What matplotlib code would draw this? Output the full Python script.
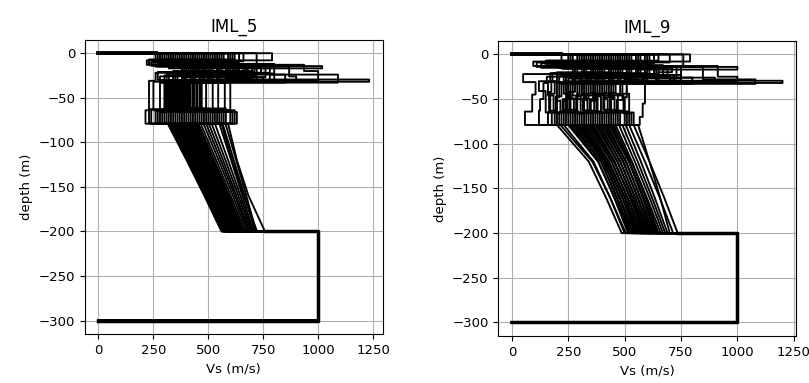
import numpy as np
import matplotlib.pyplot as plt

# --- IML_5 profiles: layer velocities (m/s) and layer bottoms (m) ---
v1_5 = [270, 310, 350, 390, 430, 470, 510, 550, 590, 620, 290, 330, 370, 410, 450, 490, 530, 570, 610, 260, 300, 400, 480, 660, 720, 790,
        280, 320, 360, 380, 420, 440, 460, 500, 520, 540, 560, 600, 640, 340]
d1_5 = [-8, -10, -7, -11, -9, -12, -8, -10, -9, -11, -7, -12, -10, -8, -11, -9, -10, -12, -8, -9, -11, -10, -7, -9, -14.5, -8,
        -9, -11, -8, -10, -12, -7, -9, -11, -10, -8, -12, -9, -10, -11]
v2_5 = [220, 260, 300, 340, 380, 420, 460, 500, 540, 580, 620, 650, 240, 280, 320, 360, 400, 440, 480, 520, 560, 600, 230, 310, 1018, 470,
        250, 290, 330, 370, 410, 450, 490, 530, 570, 610, 270, 350, 430, 510]
d2_5 = [-13, -15, -12, -14, -16, -13, -15, -14, -13, -16, -12, -15, -14, -13, -17, -14, -15, -13, -16, -14, -12, -15, -13, -14, -17, -15,
        -14, -13, -15, -16, -14, -12, -15, -13, -14, -16, -15, -13, -14, -12]
v3_5 = [380, 420, 460, 500, 540, 580, 620, 660, 700, 740, 400, 440, 480, 520, 560, 600, 640, 680, 720, 760, 800, 868, 936, 450, 560, 540,
        390, 430, 470, 510, 550, 590, 630, 670, 710, 410, 450, 490, 610, 780]
d3_5 = [-22, -25, -20, -27, -23, -26, -21, -24, -28, -22, -25, -20, -27, -23, -26, -21, -24, -22, -25, -27, -23, -26, -20, -24, -22, -29.5,
        -21, -23, -25, -27, -20, -22, -24, -26, -21, -23, -25, -27, -22, -24]
v4_5 = [260, 300, 340, 380, 420, 460, 500, 540, 580, 620, 660, 700, 750, 800, 280, 320, 360, 400, 440, 480, 520, 900, 1000, 1090, 600, 1232,
        270, 310, 350, 390, 430, 470, 510, 550, 590, 640, 680, 720, 780, 850]
d4_5 = [-31, -32, -30, -33, -31, -32, -30, -31, -33, -32, -31, -30, -32, -31, -33, -30, -31, -32, -30, -33, -31, -32, -31, -33, -30, -32,
        -30, -31, -32, -33, -31, -30, -32, -31, -33, -30, -32, -31, -30, -33]
v5_5 = [230, 300, 320, 340, 355, 370, 385, 400, 415, 430, 445, 460, 470, 490, 520, 545, 575, 600, 310, 330, 350, 365, 380, 395, 410, 250,
        305, 315, 325, 335, 345, 360, 375, 390, 405, 420, 435, 450, 465, 280]
d5_5 = [-64, -63, -65, -66, -62, -64, -65, -63, -66, -64, -62, -65, -63, -64, -66, -65, -63, -64, -62, -65, -66, -63, -64, -65, -62, -64,
        -63, -65, -64, -62, -66, -63, -64, -65, -62, -64, -63, -66, -65, -64]
v6_5 = [214, 240, 260, 280, 300, 320, 340, 360, 380, 400, 420, 440, 460, 480, 500, 520, 540, 560, 580, 600, 630, 290, 350, 410, 470, 530,
        230, 270, 310, 330, 370, 390, 430, 450, 490, 510, 550, 570, 610, 620]

# gradient zone, Vs at -79, -120, -160, -200 m
g1_5 = [315, 325, 335, 345, 355, 365, 375, 385, 395, 405, 415, 425, 435, 445, 455, 465, 478, 490, 502, 515, 550, 565, 578, 560, 590, 530,
        320, 330, 340, 350, 360, 370, 380, 390, 400, 410, 420, 430, 440, 450]
g2_5 = [401, 410, 419, 429, 438, 447, 457, 466, 474, 484, 492, 501, 510, 519, 527, 536, 547, 557, 567, 578, 604, 616, 627, 608, 630, 590,
        405, 414, 424, 433, 443, 452, 461, 470, 479, 488, 497, 505, 514, 522]
g3_5 = [482, 490, 498, 508, 516, 525, 533, 541, 549, 558, 565, 573, 580, 588, 594, 602, 612, 621, 628, 637, 655, 665, 673, 662, 683, 646,
        486, 494, 503, 512, 520, 529, 537, 545, 554, 562, 569, 576, 583, 591]
g4_5 = [560, 568, 575, 585, 592, 600, 608, 615, 622, 630, 636, 642, 648, 655, 660, 667, 675, 682, 688, 695, 705, 712, 718, 722, 758, 700,
        564, 571, 580, 588, 596, 604, 611, 618, 626, 633, 639, 645, 651, 657]

# --- IML_9 profiles ---
v1_9 = [250, 290, 330, 370, 410, 450, 490, 530, 570, 610, 650, 270, 310, 350, 390, 430, 470, 510, 550, 590, 220, 380, 460, 700, 760, 790,
        260, 300, 340, 360, 400, 420, 440, 480, 500, 520, 560, 600, 630, 320]
d1_9 = [-8, -10, -7, -11, -9, -12, -8, -10, -9, -11, -7, -12, -10, -8, -11, -9, -10, -12, -8, -9, -11, -10, -7, -9, -14, -8,
        -9, -11, -8, -10, -12, -7, -9, -11, -10, -8, -12, -9, -10, -11]
v2_9 = [95, 130, 160, 190, 220, 260, 300, 340, 380, 420, 460, 500, 540, 580, 620, 240, 280, 320, 360, 400, 440, 480, 150, 200, 1000, 350,
        110, 175, 205, 230, 270, 310, 350, 390, 430, 470, 510, 550, 600, 250]
d2_9 = [-13, -15, -12, -14, -16, -13, -15, -14, -13, -16, -12, -15, -14, -13, -16, -14, -15, -13, -16, -14, -12, -15, -13, -14, -17, -15,
        -14, -13, -15, -16, -14, -12, -15, -13, -14, -16, -15, -13, -14, -12]
v3_9 = [270, 310, 350, 390, 430, 470, 510, 550, 590, 630, 670, 710, 750, 290, 330, 370, 410, 450, 490, 530, 570, 610, 913, 847, 560, 640,
        280, 320, 360, 400, 440, 480, 520, 560, 600, 650, 690, 730, 380, 460]
d3_9 = [-22, -25, -20, -27, -23, -26, -21, -24, -28, -22, -25, -20, -27, -23, -26, -21, -24, -22, -25, -27, -23, -26, -25, -28, -22, -29.5,
        -21, -23, -25, -27, -20, -22, -24, -26, -21, -23, -25, -27, -22, -24]
v4_9 = [50, 155, 200, 250, 300, 350, 400, 450, 500, 550, 600, 650, 700, 750, 800, 180, 230, 280, 330, 380, 430, 900, 1000, 1080, 480, 1200,
        170, 210, 240, 270, 310, 340, 370, 410, 440, 470, 520, 580, 640, 720]
d4_9 = [-31, -32, -30, -33, -31, -32, -30, -31, -33, -32, -31, -30, -32, -31, -33, -30, -31, -32, -30, -33, -31, -32, -31, -33, -30, -32,
        -30, -31, -32, -33, -31, -30, -32, -31, -33, -30, -32, -31, -30, -33]
v5_9 = [105, 140, 175, 210, 240, 270, 300, 330, 360, 390, 420, 450, 480, 510, 590, 120, 160, 200, 230, 260, 290, 320, 350, 380, 410, 440,
        190, 220, 250, 280, 310, 340, 370, 400, 430, 460, 490, 250, 310, 370]
d5_9 = [-45, -50, -42, -48, -52, -46, -44, -49, -51, -47, -43, -50, -45, -48, -55, -41, -46, -52, -44, -49, -47, -51, -43, -45, -50, -48,
        -44, -47, -50, -42, -46, -49, -52, -45, -48, -43, -51, -46, -44, -50]
v6_9 = [90, 125, 165, 200, 230, 260, 290, 320, 350, 380, 410, 440, 470, 500, 580, 150, 185, 215, 245, 275, 305, 335, 365, 395, 425, 455,
        170, 195, 225, 255, 285, 315, 345, 375, 405, 435, 465, 495, 520, 240]
d6_9 = [-64, -63, -65, -66, -62, -64, -65, -63, -66, -64, -62, -65, -63, -64, -70, -65, -63, -64, -62, -65, -66, -63, -64, -65, -62, -64,
        -63, -65, -64, -62, -66, -63, -64, -65, -62, -64, -63, -66, -65, -64]
v7_9 = [58, 120, 177, 210, 240, 270, 300, 330, 360, 390, 420, 450, 480, 510, 567, 540, 200, 250, 280, 310, 340, 370, 400, 430, 460, 520,
        190, 220, 260, 290, 320, 350, 380, 410, 440, 470, 500, 530, 160, 230]

g1_9 = [200, 230, 250, 265, 280, 295, 310, 325, 340, 355, 370, 385, 400, 415, 430, 445, 460, 475, 490, 520, 540, 560, 215, 505, 350, 300,
        258, 272, 288, 302, 318, 333, 348, 362, 378, 392, 408, 422, 438, 452]
g2_9 = [341, 362, 382, 395, 407, 420, 415, 428, 441, 454, 467, 480, 492, 505, 518, 531, 532, 545, 558, 590, 610, 610, 357, 572, 453, 430,
        384, 396, 409, 404, 418, 430, 443, 456, 469, 481, 495, 507, 521, 521]
g3_9 = [417, 435, 455, 466, 478, 489, 490, 501, 513, 524, 536, 547, 558, 570, 581, 593, 598, 610, 621, 655, 675, 657, 435, 633, 526, 501,
        453, 464, 476, 477, 489, 500, 511, 523, 534, 545, 557, 568, 580, 585]
g4_9 = [487, 500, 520, 530, 540, 550, 560, 570, 580, 590, 600, 610, 620, 630, 640, 650, 660, 670, 680, 715, 735, 700, 505, 690, 595, 565,
        515, 525, 535, 545, 555, 565, 575, 585, 595, 605, 615, 625, 635, 645]

grad_z = [-79, -120, -160, -200]
bedrock_vs = 1000
bedrock_z = -300


def profile_xy(vs, zb, gvs):
    # step profile from the surface, then gradient zone and half-space
    x, y = [0], [0]
    ztop = 0
    for v, z in zip(vs, zb):
        x += [v, v]
        y += [ztop, z]
        ztop = z
    x += list(gvs) + [bedrock_vs, bedrock_vs, 0]
    y += grad_z + [grad_z[-1], bedrock_z, bedrock_z]
    return x, y


panels = [
    ('IML_5', [v1_5, v2_5, v3_5, v4_5, v5_5, v6_5],
     [d1_5, d2_5, d3_5, d4_5, d5_5, [grad_z[0]] * len(v1_5)],
     [g1_5, g2_5, g3_5, g4_5]),
    ('IML_9', [v1_9, v2_9, v3_9, v4_9, v5_9, v6_9, v7_9],
     [d1_9, d2_9, d3_9, d4_9, d5_9, d6_9, [grad_z[0]] * len(v1_9)],
     [g1_9, g2_9, g3_9, g4_9]),
]

fig = plt.figure(figsize=(8.09, 3.83), dpi=100)
axes = [fig.add_axes([0.105, 0.128, 0.368, 0.768]),
        fig.add_axes([0.616, 0.123, 0.368, 0.770])]

for ax, (name, vcols, zcols, gcols) in zip(axes, panels):
    n = len(vcols[0])
    for i in range(n):
        vs = [c[i] for c in vcols]
        zb = [c[i] for c in zcols]
        gvs = [c[i] for c in gcols]
        x, y = profile_xy(vs, zb, gvs)
        ax.plot(x, y, color='k', linewidth=1.35)
    # segments shared by every profile pile up into a heavier stroke
    ax.plot([0, min(vcols[0])], [0, 0], color='k', linewidth=2.8)
    ax.plot([max(gcols[-1]), bedrock_vs, bedrock_vs, 0],
            [grad_z[-1], grad_z[-1], bedrock_z, bedrock_z], color='k', linewidth=2.5)
    ax.set_title(name, fontsize=12)
    ax.set_xlabel('Vs (m/s)', fontsize=9.5)
    ax.set_ylabel('depth (m)', fontsize=9.5)
    ax.tick_params(labelsize=9.5)
    ax.set_xticks([0, 250, 500, 750, 1000, 1250])
    ax.grid(True)

plt.savefig('out.png', dpi=100)
